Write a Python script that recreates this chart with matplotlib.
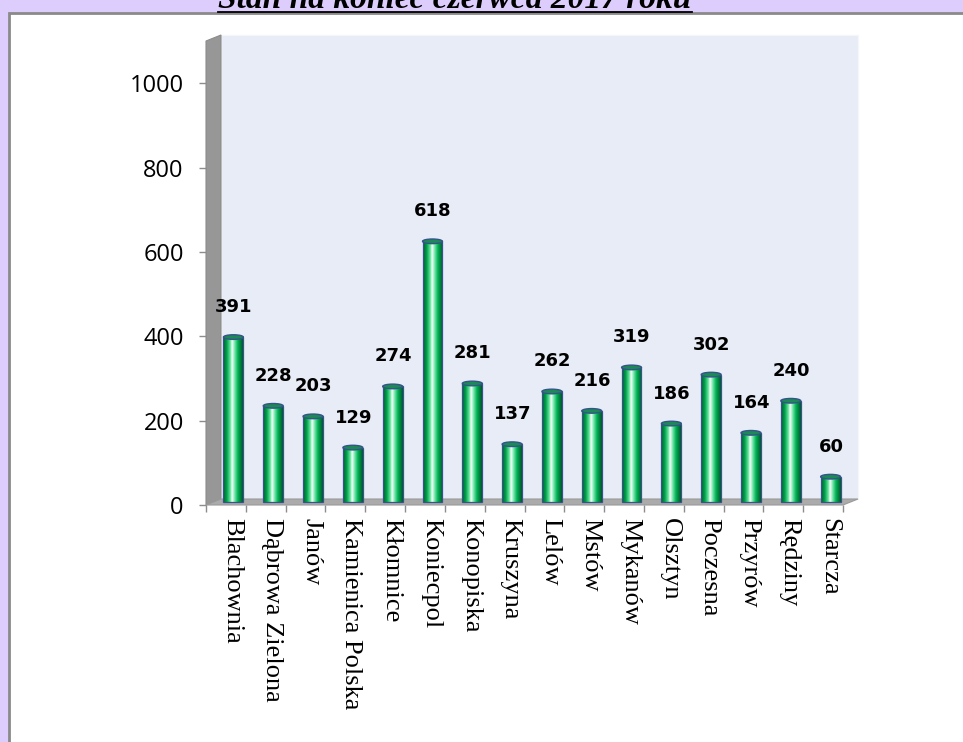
import numpy as np
import matplotlib
matplotlib.use('Agg')
import matplotlib.pyplot as plt
from matplotlib import transforms
from matplotlib.patches import Polygon, Rectangle, Ellipse
from matplotlib.lines import Line2D
from matplotlib.colors import LinearSegmentedColormap

# data
gminy = ['Blachownia', 'Dąbrowa Zielona', 'Janów', 'Kamienica Polska', 'Kłomnice',
         'Koniecpol', 'Konopiska', 'Kruszyna', 'Lelów', 'Mstów', 'Mykanów',
         'Olsztyn', 'Poczesna', 'Przyrów', 'Rędziny', 'Starcza']
wartosci = [391, 228, 203, 129, 274, 618, 281, 137, 262, 216, 319, 186, 302, 164, 240, 60]
yticks = [0, 200, 400, 600, 800, 1000]
tytul = 'Stan na koniec czerwca 2017 roku'

W, H, DPI = 963, 742, 100
DX, DY = 15, 6          # depth of the 3d box in pixels

fig = plt.figure(figsize=(W / DPI, H / DPI), dpi=DPI)
fig.patch.set_facecolor('#ddcdfd')

# white sheet with grey border
sheet = Rectangle((9 / W, -0.1), 1.2, 1.1 - 13 / H, transform=fig.transFigure,
                  facecolor='white', edgecolor='#8a8a8a', linewidth=2, zorder=-1)
fig.add_artist(sheet)

ax = fig.add_axes([206 / W, (H - 505) / H, 637 / W, 464 / H])
ax.set_zorder(1)
ax.set_facecolor('none')
for s in ax.spines.values():
    s.set_visible(False)

n = len(wartosci)
xs = np.arange(n)
ax.set_xlim(-0.5, n - 0.5)
ax.set_ylim(0, 1100)

# 3d walls, built from the axes corners
def px(pt):
    return ax.transAxes.transform(pt)

fig.canvas.draw()
p00, p10, p01, p11 = px((0, 0)), px((1, 0)), px((0, 1)), px((1, 1))
d = np.array([DX, DY])
back = Polygon([p00 + d, p10 + d, p11 + d, p01 + d], closed=True, transform=None,
               facecolor='#e8ecf6', edgecolor='#f4f6fb', linewidth=1, zorder=0.5)
side = Polygon([p00, p01, p01 + d, p00 + d], closed=True, transform=None,
               facecolor='#979797', edgecolor='#8c8c8c', linewidth=0.8, zorder=0.6)
floor = Polygon([p00, p10, p10 + d, p00 + d], closed=True, transform=None,
                facecolor='#ababab', edgecolor='#9a9a9a', linewidth=0.8, zorder=0.6)
for p in (back, side, floor):
    p.set_clip_on(False)
    fig.add_artist(p)

# cylinder bars
bar_tr = ax.transData + transforms.ScaledTranslation(7.5 / DPI, 3 / DPI, fig.dpi_scale_trans)
cyl = LinearSegmentedColormap.from_list('cyl', [
    (0.0, '#005f2c'), (0.18, '#00a04c'), (0.36, '#5fe59a'), (0.46, '#ffffff'),
    (0.56, '#8af0bb'), (0.75, '#00b455'), (1.0, '#00572a')])
grad = np.linspace(0, 1, 64).reshape(1, -1)
bw = 0.5
bars = ax.bar(xs, wartosci, width=bw, facecolor='none', edgecolor='#34548a',
              linewidth=0.9, transform=bar_tr, zorder=4)
for x, v, b in zip(xs, wartosci, bars):
    im = ax.imshow(grad, extent=(x - bw / 2, x + bw / 2, 0, v), aspect='auto',
                   cmap=cyl, transform=bar_tr, zorder=3, interpolation='bilinear')
    im.set_clip_path(b)
    cap = Ellipse((x, v), bw, 11, transform=bar_tr, facecolor='#1b8a55',
                  edgecolor='#34548a', linewidth=1.0, zorder=5)
    ax.add_patch(cap)
    ax.annotate(str(v), (x, v), xytext=(8, 24), textcoords='offset pixels',
                ha='center', va='bottom', fontsize=13, fontweight='bold',
                family='DejaVu Sans', color='black', zorder=6)

ax.set_aspect('auto')
ax.set_xlim(-0.5, n - 0.5)
ax.set_ylim(0, 1100)

# axes ticks
ax.set_yticks(yticks)
ax.set_yticklabels([str(t) for t in yticks], family='Open Sans', fontsize=17)
ax.tick_params(axis='y', length=5, width=1, color='#8c8c8c', pad=11)
ax.set_xticks(xs)
ax.set_xticklabels(gminy, rotation=-90, family='Liberation Serif', fontsize=19,
                   ha='center', va='top')
ax.set_xticks(np.arange(-0.5, n, 1), minor=True)
ax.tick_params(axis='x', which='major', length=0, pad=9)
ax.tick_params(axis='x', which='minor', length=5, width=1, color='#8c8c8c')
shift = transforms.ScaledTranslation(6 / DPI, 0, fig.dpi_scale_trans)
for lab in ax.get_xticklabels():
    lab.set_transform(lab.get_transform() + shift)

# title, cut off at the top, underlined
t = fig.text(455 / W, 1 - 8 / H, tytul, ha='center', va='baseline', fontsize=24,
             family='Liberation Serif', style='italic', fontweight='bold')
fig.canvas.draw()
bb = t.get_window_extent()
fig.add_artist(Line2D([bb.x0, bb.x1], [H - 11.5, H - 11.5], transform=None,
                      color='black', linewidth=1.3))

fig.savefig('out.png', dpi=DPI, facecolor=fig.get_facecolor())
